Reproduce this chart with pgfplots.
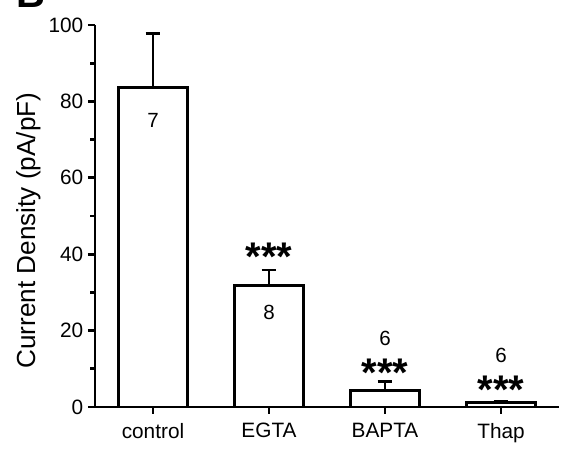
\documentclass[border=0pt]{standalone}
\usepackage{pgfplots}
\pgfplotsset{compat=1.18}
\usepackage{fontspec}
\setmainfont{Liberation Sans}

\begin{document}
\begin{tikzpicture}
\begin{axis}[
    scale only axis,
    width=348pt, height=286.5pt,
    xmin=-0.5, xmax=3.5, ymin=0, ymax=100,
    axis x line*=bottom, axis y line*=left,
    axis line style={line width=2pt, black},
    xtick={0,1,2,3},
    xticklabels={control,EGTA,BAPTA,Thap},
    ytick={0,20,40,60,80,100},
    minor ytick={10,30,50,70,90},
    tick align=outside,
    major tick length=5.25pt, minor tick length=3.5pt,
    every tick/.style={black, line width=2pt},
    tick label style={font=\fontsize{15.6}{18}\selectfont},
    /pgf/number format/assume math mode=true,
    xticklabel style={yshift=-3.5pt},
    ylabel={Current Density (pA/pF)},
    every axis y label/.style={at={(axis description cs:-0.1272,0.462)}, rotate=90, anchor=base},
    label style={font=\fontsize{19.6}{23}\selectfont},
    clip=false,
]
\addplot[ybar, bar width=51.75pt, fill=white, draw=black, line width=2pt,
    error bars/.cd, y dir=plus, y explicit,
    error bar style={line width=2pt, black},
    error mark options={black, line width=2pt, mark size=5.6pt, rotate=90}]
    coordinates {(0,83.7) +- (0,14.0) (1,31.8) +- (0,4.1) (2,4.3) +- (0,2.4) (3,1.1) +- (0,0.5)};

\coordinate (O) at (rel axis cs:0,0);

% n numbers
\node[font=\fontsize{15.4}{18}\selectfont] at (axis cs:0,75) {7};
\node[font=\fontsize{15.4}{18}\selectfont] at (axis cs:1,24.7) {8};
\node[font=\fontsize{15.4}{18}\selectfont] at (axis cs:2,17.9) {6};
\node[font=\fontsize{15.4}{18}\selectfont] at (axis cs:3,13.5) {6};
% significance
\node[font=\fontsize{30}{34}\selectfont\bfseries] at (axis cs:1,39.3) {***};
\node[font=\fontsize{30}{34}\selectfont\bfseries] at (axis cs:2,8.9) {***};
\node[font=\fontsize{30}{34}\selectfont\bfseries] at (axis cs:3,4.4) {***};
\end{axis}
% panel letter, cut at the top as in the figure
\node[font=\fontsize{30}{34}\selectfont\bfseries, inner sep=0pt, anchor=base west]
    at ([shift={(-59.25pt,299.5pt)}]O) {B};
\pgfresetboundingbox
\path[use as bounding box] ([shift={(-71.25pt,-32.25pt)}]O) rectangle ([shift={(352.5pt,305.25pt)}]O);
\end{tikzpicture}
\end{document}
